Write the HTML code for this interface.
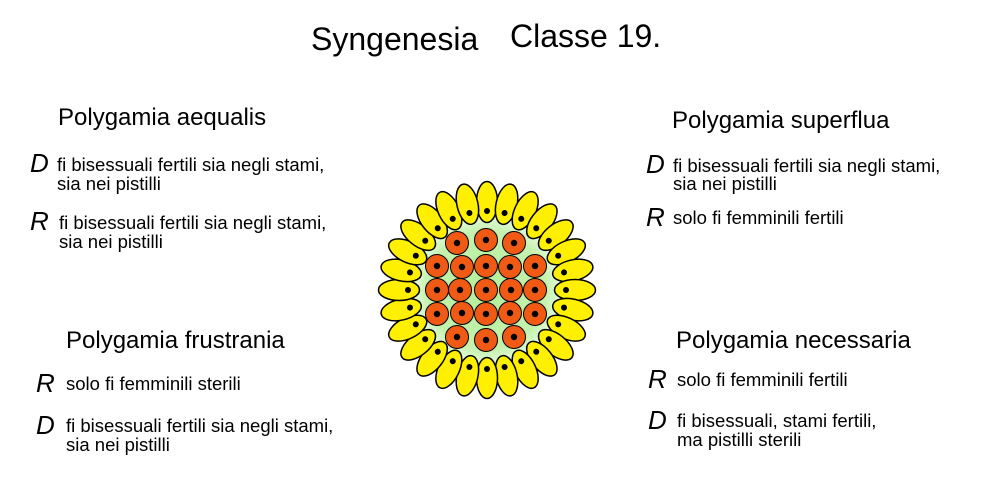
<!DOCTYPE html>
<html><head><meta charset="utf-8"><style>html,body{margin:0;padding:0;background:#fff}svg{display:block}text{font-family:"Liberation Sans",Arial,sans-serif;fill:#000}</style></head>
<body>
<svg width="990" height="480" viewBox="0 0 990 480" xmlns="http://www.w3.org/2000/svg">
<defs>
<radialGradient id="g"><stop offset="0" stop-color="#b4ee98"/><stop offset="0.8" stop-color="#c4f2ae"/><stop offset="1" stop-color="#e6fadc"/></radialGradient>
<g id="p"><ellipse cx="0" cy="-88" rx="10.5" ry="20.5" fill="#ffef00" stroke="#000" stroke-width="1.5"/><circle cx="0" cy="-79" r="3" fill="#000"/></g>
<g id="o"><circle r="11.5" fill="#f05a14" stroke="#000" stroke-width="1"/><circle r="3.2" fill="#000"/></g>
</defs>
<text x="311" y="50" font-size="32">Syngenesia</text>
<text x="510" y="47" font-size="32">Classe 19.</text>

<text x="58" y="125" font-size="24">Polygamia aequalis</text>
<text x="30" y="172" font-size="26" font-style="italic">D</text>
<text x="57" y="171" font-size="18.5">fi bisessuali fertili sia negli stami,</text>
<text x="57" y="190" font-size="18.5">sia nei pistilli</text>
<text x="30" y="230" font-size="26" font-style="italic">R</text>
<text x="59" y="229" font-size="18.5">fi bisessuali fertili sia negli stami,</text>
<text x="59" y="248" font-size="18.5">sia nei pistilli</text>

<text x="672" y="128" font-size="24">Polygamia superflua</text>
<text x="646" y="173" font-size="26" font-style="italic">D</text>
<text x="673" y="172" font-size="18.5">fi bisessuali fertili sia negli stami,</text>
<text x="673" y="190" font-size="18.5">sia nei pistilli</text>
<text x="646" y="226" font-size="26" font-style="italic">R</text>
<text x="673" y="224" font-size="18.5">solo fi femminili fertili</text>

<text x="66" y="348" font-size="24">Polygamia frustrania</text>
<text x="36" y="392" font-size="26" font-style="italic">R</text>
<text x="66" y="390" font-size="18.5">solo fi femminili sterili</text>
<text x="36" y="434" font-size="26" font-style="italic">D</text>
<text x="66" y="432" font-size="18.5">fi bisessuali fertili sia negli stami,</text>
<text x="66" y="451" font-size="18.5">sia nei pistilli</text>

<text x="676" y="348" font-size="24">Polygamia necessaria</text>
<text x="648" y="388" font-size="26" font-style="italic">R</text>
<text x="677" y="386" font-size="18.5">solo fi femminili fertili</text>
<text x="648" y="429" font-size="26" font-style="italic">D</text>
<text x="677" y="427" font-size="18.5">fi bisessuali, stami fertili,</text>
<text x="677" y="446" font-size="18.5">ma pistilli sterili</text>

<g transform="translate(487,290)">
<circle r="74" fill="url(#g)"/>
<use href="#p" transform="rotate(0)"/><use href="#p" transform="rotate(12.86)"/><use href="#p" transform="rotate(25.71)"/><use href="#p" transform="rotate(38.57)"/><use href="#p" transform="rotate(51.43)"/><use href="#p" transform="rotate(64.29)"/><use href="#p" transform="rotate(77.14)"/><use href="#p" transform="rotate(90)"/><use href="#p" transform="rotate(102.86)"/><use href="#p" transform="rotate(115.71)"/><use href="#p" transform="rotate(128.57)"/><use href="#p" transform="rotate(141.43)"/><use href="#p" transform="rotate(154.29)"/><use href="#p" transform="rotate(167.14)"/><use href="#p" transform="rotate(180)"/><use href="#p" transform="rotate(192.86)"/><use href="#p" transform="rotate(205.71)"/><use href="#p" transform="rotate(218.57)"/><use href="#p" transform="rotate(231.43)"/><use href="#p" transform="rotate(244.29)"/><use href="#p" transform="rotate(257.14)"/><use href="#p" transform="rotate(270)"/><use href="#p" transform="rotate(282.86)"/><use href="#p" transform="rotate(295.71)"/><use href="#p" transform="rotate(308.57)"/><use href="#p" transform="rotate(321.43)"/><use href="#p" transform="rotate(334.29)"/><use href="#p" transform="rotate(347.14)"/>
<use href="#o" x="-30" y="-47"/><use href="#o" x="-1" y="-50"/><use href="#o" x="27" y="-47"/>
<use href="#o" x="-50" y="-24"/><use href="#o" x="-25" y="-23"/><use href="#o" x="-1" y="-24"/><use href="#o" x="23" y="-23"/><use href="#o" x="48" y="-24"/>
<use href="#o" x="-50" y="0"/><use href="#o" x="-27" y="0"/><use href="#o" x="-1" y="0"/><use href="#o" x="24" y="0"/><use href="#o" x="48" y="0"/>
<use href="#o" x="-50" y="24"/><use href="#o" x="-25" y="23"/><use href="#o" x="-1" y="24"/><use href="#o" x="23" y="23"/><use href="#o" x="48" y="24"/>
<use href="#o" x="-30" y="47"/><use href="#o" x="-1" y="50"/><use href="#o" x="27" y="47"/>
</g>
</svg>
</body></html>
